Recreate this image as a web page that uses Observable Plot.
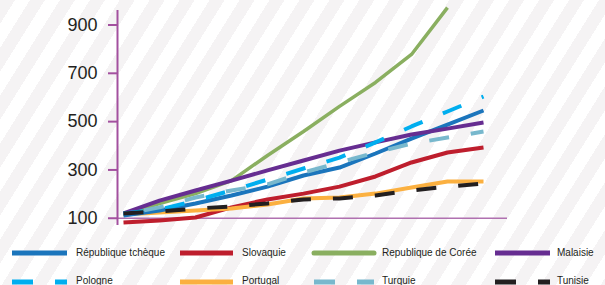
<!DOCTYPE html>
<html>
<head>
<meta charset="utf-8">
<script src="https://cdn.jsdelivr.net/npm/d3@7"></script>
<script src="https://cdn.jsdelivr.net/npm/@observablehq/plot@0.6"></script>
<style>
  html, body { margin: 0; padding: 0; width: 605px; height: 285px; overflow: hidden; }
  body {
    background: repeating-linear-gradient(122deg, #f5f3f4 0px, #f5f3f4 12.7px, #ffffff 12.7px, #ffffff 25.4px);
    font-family: "Liberation Sans", Arial, Helvetica, sans-serif;
  }
  #chart svg, #legend svg { display: block; background: transparent; }
</style>
</head>
<body>
<div id="chart"></div>
<div id="legend"></div>
<script>
// ---- data ----
const steps = [0, 1, 2, 3, 4, 5, 6, 7, 8, 9, 10];
const yTicks = [100, 300, 500, 700, 900];
const seriesNames = ["République tchèque", "Slovaquie", "Republique de Corée", "Malaisie",
                     "Pologne", "Portugal", "Turquie", "Tunisie"];
const czech    = [111, 132, 161, 194, 231, 277, 310, 368, 430, 488, 546];
const slovakia = [82, 91, 103, 145, 178, 202, 231, 273, 331, 372, 393];
const korea    = [115, 161, 202, 256, 360, 459, 563, 662, 778, 972];
const malaysia = [120, 173, 215, 256, 298, 339, 380, 414, 447, 471, 496];
const poland   = [120, 136, 173, 215, 260, 306, 351, 414, 480, 542, 604];
const portugal = [116, 124, 132, 140, 157, 182, 186, 202, 227, 252, 252];
const turkey   = [116, 145, 186, 215, 240, 289, 331, 372, 409, 434, 459];
const tunisia  = [120, 128, 140, 149, 161, 178, 182, 194, 215, 231, 244];

// ---- styles ----
const seriesValues = [czech, slovakia, korea, malaysia, poland, portugal, turkey, tunisia];
const colors = ["#1b75bc", "#be1e2d", "#8aaf60", "#662d91", "#00aeef", "#fbb040", "#78b8cd", "#231f20"];
const dashed = [false, false, false, false, true, false, true, true];
const dashOffset = [0, 0, 0, 0, 0, 0, 21, 0];
const widths = [4, 4, 3.5, 4, 4, 4, 4, 4];
const drawOrder = [2, 1, 5, 0, 3, 6, 4, 7];
const purple = "#a3509f";
const xAxisColor = "#b071b0";
const textColor = "#231f20";

const xDomain = [-1 / 6, 32 / 3];
const yDomain = [70, 960];

const lineMarks = drawOrder.map(k => {
  const vals = seriesValues[k];
  const rows = vals.map((v, i) => ({x: steps[i], y: v}));
  return Plot.line(rows, {
    x: "x", y: "y",
    stroke: colors[k],
    strokeWidth: widths[k],
    strokeLinejoin: "round",
    strokeLinecap: "butt",
    strokeDasharray: dashed[k] ? "20,22" : null,
    strokeDashoffset: dashOffset[k]
  });
});

const chart = Plot.plot({
  width: 605,
  height: 235,
  marginLeft: 117,
  marginRight: 98,
  marginTop: 10,
  marginBottom: 10,
  style: {background: "transparent", fontFamily: "Liberation Sans, Arial, Helvetica, sans-serif"},
  x: {domain: xDomain, axis: null},
  y: {domain: yDomain, axis: null},
  marks: [
    Plot.ruleY([100], {stroke: xAxisColor, strokeWidth: 1.5}),
    Plot.ruleX([xDomain[0]], {y1: yDomain[0], y2: yDomain[1], stroke: purple, strokeWidth: 2}),
    Plot.axisY(yTicks, {
      tickSize: 9, tickPadding: 11, fontSize: 18,
      stroke: purple, strokeWidth: 2, fill: textColor,
      tickFormat: d => String(d), label: null
    }),
    ...lineMarks
  ]
});
document.getElementById("chart").appendChild(chart);

// ---- legend ----
const colSwatch = [[12, 67], [180, 233], [314, 374], [495, 550]];
const colText = [76, 242, 382, 557];
const rowSwatchY = [18, 47];
const rowTextY = [20.7, 49];

const lg = d3.select("#legend").append("svg")
  .attr("width", 605).attr("height", 50);
seriesNames.forEach((name, k) => {
  const row = Math.floor(k / 4), col = k % 4;
  lg.append("line")
    .attr("x1", colSwatch[col][0]).attr("x2", colSwatch[col][1])
    .attr("y1", rowSwatchY[row]).attr("y2", rowSwatchY[row])
    .attr("stroke", colors[k])
    .attr("stroke-width", 5)
    .attr("stroke-linecap", k === 2 ? "round" : "butt")
    .attr("stroke-dasharray", dashed[k] ? "21,22" : null);
  lg.append("text")
    .attr("x", colText[col]).attr("y", rowTextY[row])
    .attr("fill", textColor)
    .attr("font-size", 10)
    .attr("font-family", "Liberation Sans, Arial, Helvetica, sans-serif")
    .text(name);
});
</script>
</body>
</html>
